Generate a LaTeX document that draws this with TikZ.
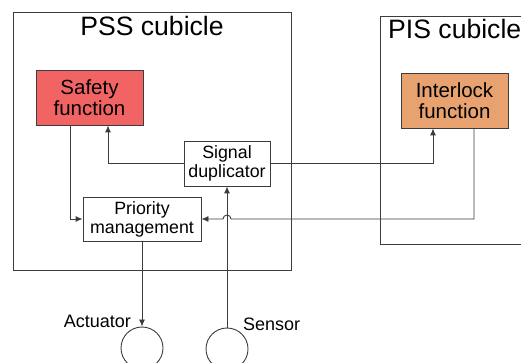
\documentclass[tikz,border=0pt]{standalone}
\usepackage{fontspec}
\setmainfont{Liberation Sans}
\usetikzlibrary{arrows.meta,shapes.geometric}
\definecolor{safred}{RGB}{242,100,100}
\definecolor{iloran}{RGB}{232,162,112}
\definecolor{ln}{RGB}{60,60,60}
\tikzset{
  box/.style={draw=ln, line width=0.9pt, align=center, inner sep=0pt},
  bigtxt/.style={font=\fontsize{20.5}{21}\selectfont},
  smalltxt/.style={font=\fontsize{17.8}{19}\selectfont},
  title/.style={font=\fontsize{26.6}{28}\selectfont, inner sep=0pt},
  lbl/.style={font=\fontsize{18}{20}\selectfont, inner sep=0pt},
  wire/.style={draw=ln, line width=0.9pt},
  arr/.style={wire, -{Latex[length=7pt,width=6pt]}},
}
\begin{document}
\begin{tikzpicture}[x=1pt,y=1pt]
\useasboundingbox (0,0) rectangle (521,363);
% cubicles
\draw[wire] (13,351) rectangle (291,93);
\draw[wire] (521,347) -- (380,347) -- (380,119) -- (521,119);
\node[title, anchor=base] (psst) at (152,327) {PSS cubicle};
\node[title, anchor=base west] (pist) at (388,324) {PIS cubicle};
% boxes
\node[box, bigtxt, fill=safred, minimum width=107pt, minimum height=55pt] (saf) at (89.5,265.5) {Safety\\function};
\node[box, bigtxt, fill=iloran, minimum width=107pt, minimum height=55pt] (il) at (454.5,262.5) {Interlock\\function};
\node[box, smalltxt, fill=white, minimum width=86pt, minimum height=45pt] (sig) at (227,199.5) {Signal\\duplicator};
\node[box, smalltxt, fill=white, minimum width=118pt, minimum height=44pt] (pri) at (142,144) {Priority\\management};
% field devices
\node[draw=ln, line width=0.9pt, ellipse, minimum width=42pt, minimum height=42pt, inner sep=0pt] (act) at (142,15) {};
\node[draw=ln, line width=0.9pt, ellipse, minimum width=42pt, minimum height=42pt, inner sep=0pt] (sen) at (227,14) {};
\node[lbl, anchor=base east] (actl) at (131,35) {Actuator};
\node[lbl, anchor=base west] (senl) at (243,32) {Sensor};
% connectors
\draw[arr] (sig.west) -| ([xshift=18.5pt]saf.south);
\draw[arr] (sig.east) -| ([xshift=-21.5pt]il.south);
\draw[arr] ([xshift=-19.5pt]saf.south) |- (pri.west);
\coordinate (hopR) at (231,144);
\draw[arr] ([xshift=19.5pt]il.south) |- (hopR) arc[start angle=0, end angle=180, radius=4] -- (pri.east);
\draw[arr] (pri.south) -- (act.north);
\draw[arr] (sen.north) -- (sig.south);
\end{tikzpicture}
\end{document}
